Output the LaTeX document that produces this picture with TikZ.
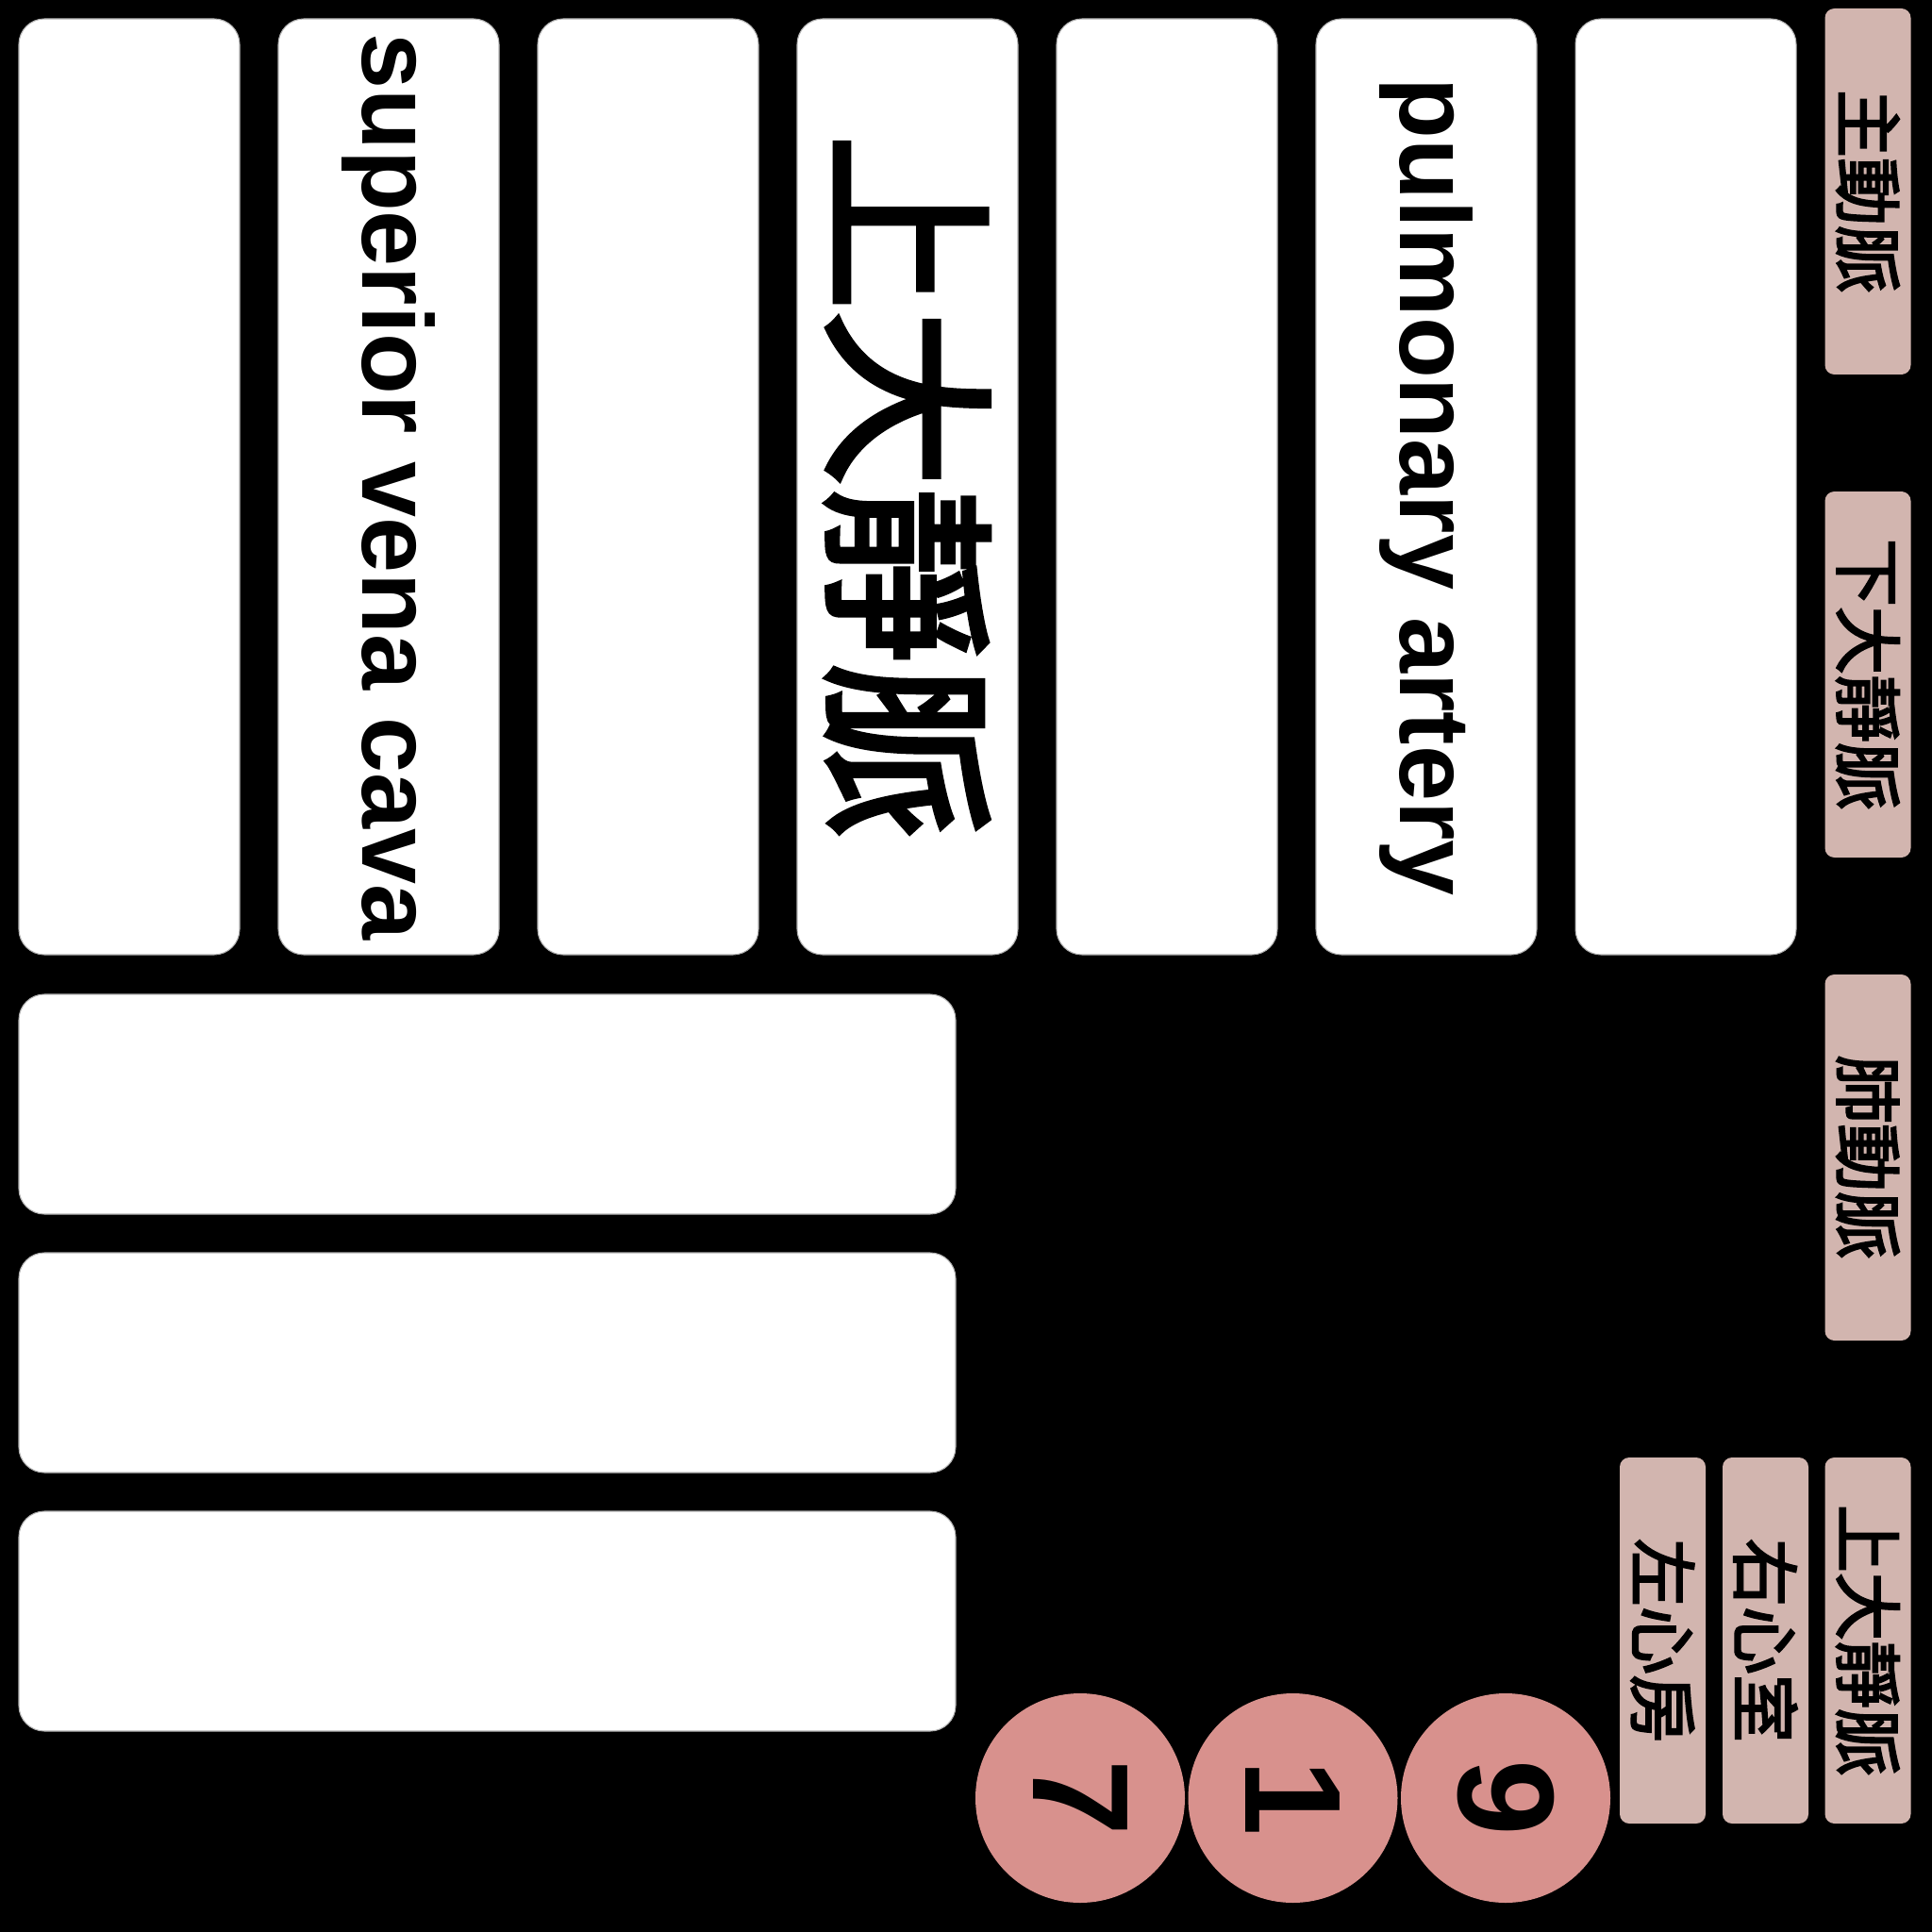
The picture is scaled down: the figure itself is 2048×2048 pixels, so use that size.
\documentclass[tikz,border=0pt]{standalone}
\usepackage{fontspec}
\setmainfont{Liberation Sans}
\newfontfamily\cjk{Noto Sans CJK TC}[FakeBold=3]
\definecolor{tagpink}{HTML}{D2B5AF}
\definecolor{dotpink}{HTML}{D8918D}
\tikzset{
  card/.style={fill=white,draw=gray!60,line width=0.3pt,rounded corners=2.7mm,inner sep=0pt},
  vcard/.style={card,rotate=-90,minimum width=99.2mm,minimum height=23.4mm},
  hcard/.style={card,minimum width=99.3mm,minimum height=23.3mm},
  tag/.style={fill=tagpink,rounded corners=1mm,rotate=-90,inner sep=0pt,
    minimum width=38.8mm,minimum height=9.1mm,font=\cjk\fontsize{20.5}{24}\selectfont},
  dot/.style={circle,fill=dotpink,minimum size=22.2mm,inner sep=0pt,
    font=\bfseries\fontsize{41.3}{48}\selectfont}
}
\begin{document}
\begin{tikzpicture}[x=0.1mm,y=-0.1mm]
                \fill[black] (0,0) rectangle (2048,2048);
                \useasboundingbox (0,0) rectangle (2048,2048);
                \foreach \i in {1,...,7}{
                    \node[vcard] (col\i) at ({137+275*(\i-1)},516) {};
                }
                \node[font=\bfseries\fontsize{30.2}{36}\selectfont,rotate=-90] (svc) at (col2) {superior vena cava};
                \node[font=\cjk\fontsize{53.2}{60}\selectfont,rotate=-90] (svczh) at (col4) {上大靜脈};
                \node[font=\bfseries\fontsize{30.2}{36}\selectfont,rotate=-90] (pa) at (col6) {pulmonary artery};
                \foreach \j in {1,2,3}{
                    \node[hcard] (row\j) at (516.5,{1170.5+274*(\j-1)}) {};
                }
                % labels on the right
                \node[tag] (aorta) at (1980,203) {主動脈};
                \node[tag] (ivc) at (1980,715) {下大靜脈};
                \node[tag] (pulm) at (1980,1227) {肺動脈};
                \node[tag] (svctag) at (1980,1739) {上大靜脈};
                \node[tag] (rv) at (1871.5,1739) {右心室};
                \node[tag] (la) at (1762.5,1739) {左心房};
                \foreach \n/\x in {7/1145,1/1370.5,9/1596}{
                    \node[dot] (num\n) at (\x,1906) {\rotatebox{-90}{\n}};
                }
\end{tikzpicture}
\end{document}
